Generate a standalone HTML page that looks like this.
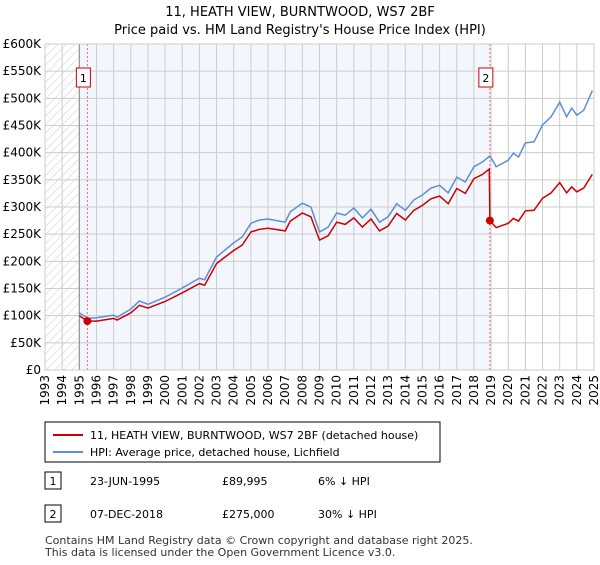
<!DOCTYPE html>
<html><head><meta charset="utf-8"><style>
body{margin:0;background:#fff;font-family:"Liberation Sans","DejaVu Sans",sans-serif;}
svg text{font-family:"DejaVu Sans","Liberation Sans",sans-serif;}
</style></head><body>
<svg width="600" height="560" xmlns="http://www.w3.org/2000/svg">
<defs><pattern id="hatch" width="6" height="6" patternUnits="userSpaceOnUse" patternTransform="rotate(45)"><line x1="0" y1="0" x2="0" y2="6" stroke="#ccc" stroke-width="1"/></pattern></defs>
<text x="300" y="16" text-anchor="middle" font-size="13">11, HEATH VIEW, BURNTWOOD, WS7 2BF</text>
<text x="300" y="34" text-anchor="middle" font-size="13">Price paid vs. HM Land Registry's House Price Index (HPI)</text>
<g id="plot"></g>
<g>
<rect x="45" y="422" width="395" height="40" fill="#fff" stroke="#000"/>
<line x1="53" y1="435" x2="83" y2="435" stroke="#cc0000" stroke-width="2"/>
<text x="90" y="439" font-size="11">11, HEATH VIEW, BURNTWOOD, WS7 2BF (detached house)</text>
<line x1="53" y1="452" x2="83" y2="452" stroke="#5b8fd6" stroke-width="2"/>
<text x="90" y="456" font-size="11">HPI: Average price, detached house, Lichfield</text>
</g>
<g font-size="11">
<rect x="45" y="472" width="16" height="17" fill="#fff" stroke="#000"/><text x="53" y="485" text-anchor="middle">1</text>
<text x="90" y="485">23-JUN-1995</text><text x="222" y="485">£89,995</text><text x="318" y="485">6% ↓ HPI</text>
<rect x="45" y="505" width="16" height="17" fill="#fff" stroke="#000"/><text x="53" y="518" text-anchor="middle">2</text>
<text x="90" y="518">07-DEC-2018</text><text x="222" y="518">£275,000</text><text x="318" y="518">30% ↓ HPI</text>
</g>
<text x="45" y="544" font-size="11" fill="#333">Contains HM Land Registry data © Crown copyright and database right 2025.</text>
<text x="45" y="556" font-size="11" fill="#333">This data is licensed under the Open Government Licence v3.0.</text>
</svg>
<script>
const hpiYears=[1995.0,1995.5,1996,1997,1997.2,1998,1998.5,1999,2000,2001,2002,2002.3,2003,2003.5,2004,2004.5,2005,2005.5,2006,2007,2007.3,2008,2008.5,2009,2009.5,2010,2010.5,2011,2011.5,2012,2012.5,2013,2013.5,2014,2014.5,2015,2015.5,2016,2016.5,2017,2017.5,2018,2018.5,2018.93,2019.3,2020,2020.3,2020.6,2021,2021.5,2022,2022.5,2023,2023.4,2023.7,2024,2024.4,2024.9];
const hpiValues=[105,95,96,101,97,112,127,121,134,151,169,166,208,221,234,245,270,276,278,272,291,307,300,254,263,289,285,298,280,296,272,282,306,294,313,322,335,340,326,355,346,374,383,394,374,386,399,392,418,420,451,466,493,466,482,469,478,514];
const priceYears=[1995.0,1995.47,1996,1997,1997.2,1998,1998.5,1999,2000,2001,2002,2002.3,2003,2003.5,2004,2004.5,2005,2005.5,2006,2007,2007.3,2008,2008.5,2009,2009.5,2010,2010.5,2011,2011.5,2012,2012.5,2013,2013.5,2014,2014.5,2015,2015.5,2016,2016.5,2017,2017.5,2018,2018.5,2018.9,2018.93,2019.3,2020,2020.3,2020.6,2021,2021.5,2022,2022.5,2023,2023.4,2023.7,2024,2024.4,2024.9];
const priceValues=[100,90,90,95,92,105,119,114,126,142,159,156,196,208,220,230,254,259,261,256,274,289,282,239,247,272,268,280,263,278,256,265,288,276,294,303,315,320,306,334,325,352,360,370,275,262,270,279,274,293,294,316,326,345,326,337,328,335,360];
const saleYears=[1995.47,2018.93];
const saleValues=[89.995,275];
const saleLabels=["1","2"];
const yTicks=[0,50,100,150,200,250,300,350,400,450,500,550,600];
const xTicks=[1993,1994,1995,1996,1997,1998,1999,2000,2001,2002,2003,2004,2005,2006,2007,2008,2009,2010,2011,2012,2013,2014,2015,2016,2017,2018,2019,2020,2021,2022,2023,2024,2025];
const X0=45,X1=594,Y0=370,Y1=44;
const sx=y=>X0+(y-1993)/(2025-1993)*(X1-X0);
const sy=v=>Y0-v/600*(Y0-Y1);
const NS="http://www.w3.org/2000/svg";
const g=document.getElementById('plot');
function mk(t,a,p){const e=document.createElementNS(NS,t);for(const k in a)e.setAttribute(k,a[k]);(p||g).appendChild(e);return e;}
let e=mk('rect',{x:sx(1995),y:Y1,width:sx(saleYears[1])-sx(1995),height:Y0-Y1,fill:'#f0f4fd',opacity:0.8});


e=mk('rect',{x:X0,y:Y1,width:sx(1995)-X0,height:Y0-Y1,fill:'url(#hatch)'});


yTicks.forEach(v=>{
 mk('line',{x1:X0,x2:X1,y1:sy(v),y2:sy(v),stroke:'#cccccc'});
 const t=mk('text',{x:X0-4,y:sy(v)+4,'text-anchor':'end','font-size':12});
 t.textContent=v===0?'£0':'£'+v+'K';
 
 
});
xTicks.forEach(y=>{
 mk('line',{x1:sx(y),x2:sx(y),y1:Y1,y2:Y0,stroke:'#cccccc'});
 const t=mk('text',{x:0,y:0,'text-anchor':'end','font-size':12,transform:`translate(${sx(y)+4},${Y0+5}) rotate(-90)`});
 t.textContent=y;
 
 
});
mk('line',{x1:sx(1995),x2:sx(1995),y1:Y1,y2:Y0,stroke:'#888'});
saleYears.forEach((y,i)=>{
 const l=mk('line',{x1:sx(y),x2:sx(y),y1:Y1,y2:Y0,stroke:'#ff6666','stroke-dasharray':'2,2'});
 
 
 const r=mk('rect',{x:sx(y)-11,y:68,width:14,height:19,fill:'#fff',stroke:'#cc0000'});
 
 
 const t=mk('text',{x:sx(y)-4,y:82,'text-anchor':'middle','font-size':11});
 t.textContent=saleLabels[i];
});
function path(xs,vs){return xs.map((x,i)=>(i?'L':'M')+sx(x).toFixed(1)+','+sy(vs[i]).toFixed(1)).join('');}
e=mk('path',{d:path(hpiYears,hpiValues),fill:'none',stroke:'#5b8fd6','stroke-width':1.5});


e=mk('path',{d:path(priceYears,priceValues),fill:'none',stroke:'#cc0000','stroke-width':1.5});


saleYears.forEach((y,i)=>{
 const c=mk('circle',{cx:sx(y),cy:sy(saleValues[i]),r:4,fill:'#cc0000'});
 
 
});
mk('rect',{x:X0,y:Y1,width:X1-X0,height:Y0-Y1,fill:'none',stroke:'#ccc'});
</script>
</body></html>
